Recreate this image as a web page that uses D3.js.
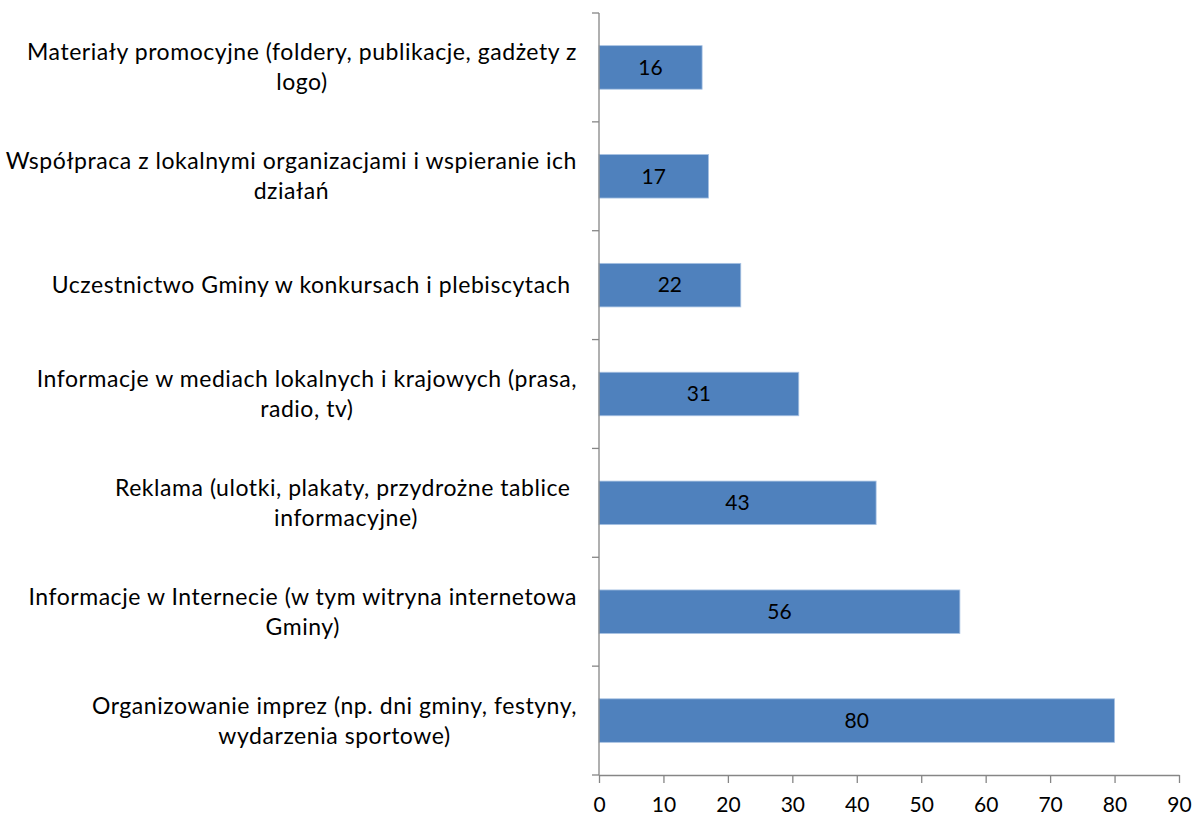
<!DOCTYPE html>
<html>
<head>
<meta charset="utf-8">
<script src="https://cdn.jsdelivr.net/npm/d3@7"></script>
<style>
  body { margin: 0; background: #fff; }
  text { font-family: Lato, "Open Sans", sans-serif; fill: #000; }
</style>
</head>
<body>
<svg id="chart"></svg>
<script>
// categories, top to bottom, already wrapped the way the original wraps them
var categories = [
	["Materiały promocyjne (foldery, publikacje, gadżety z", "logo)"],
	["Współpraca z lokalnymi organizacjami i wspieranie ich", "działań"],
	["Uczestnictwo Gminy w konkursach i plebiscytach "],
	["Informacje w mediach lokalnych i krajowych (prasa,", "radio, tv)"],
	["Reklama (ulotki, plakaty, przydrożne tablice ", "informacyjne)"],
	["Informacje w Internecie (w tym witryna internetowa", "Gminy)"],
	["Organizowanie imprez (np. dni gminy, festyny,", "wydarzenia sportowe)"]
];
var values = [16, 17, 22, 31, 43, 56, 80];
var xTicks = [0, 10, 20, 30, 40, 50, 60, 70, 80, 90];

var w = 1194;
var h = 819;
var plotLeft = 599, plotRight = 1179, plotTop = 13, plotBottom = 775;
var fontSize = 21;
var labelSize = 23;
var axisColor = "#868686";

var svg = d3.select("#chart").attr("width", w).attr("height", h);

var x = d3.scaleLinear().domain([0, 90]).range([plotLeft, plotRight]);
var y = d3.scaleBand()
	.domain(d3.range(categories.length))
	.range([plotTop, plotBottom])
	.paddingInner(0.6)
	.paddingOuter(0.3);

// bars
svg.selectAll("rect.bar")
	.data(values)
	.join("rect")
	.attr("class", "bar")
	.attr("x", x(0))
	.attr("y", function(d, i) { return y(i); })
	.attr("width", function(d) { return x(d) - x(0); })
	.attr("height", y.bandwidth())
	.attr("fill", "#4f81bd")
	.attr("stroke", "#a9c3e3")
	.attr("stroke-width", 0.8);

// value labels
svg.selectAll("text.val")
	.data(values)
	.join("text")
	.attr("class", "val")
	.attr("x", function(d) { return (x(d) + x(0)) / 2; })
	.attr("y", function(d, i) { return y(i) + y.bandwidth() / 2; })
	.attr("dy", "0.35em")
	.attr("text-anchor", "middle")
	.attr("font-size", fontSize + "px")
	.text(function(d) { return d; });

// y axis line + ticks at band edges
var yEdge = d3.scaleLinear().domain([0, categories.length]).range([plotTop, plotBottom]);
svg.append("line")
	.attr("x1", plotLeft).attr("x2", plotLeft)
	.attr("y1", plotTop).attr("y2", plotBottom)
	.attr("stroke", axisColor).attr("stroke-width", 1.3);
svg.selectAll("line.ytick")
	.data(d3.range(categories.length + 1))
	.join("line")
	.attr("class", "ytick")
	.attr("x1", plotLeft - 7).attr("x2", plotLeft)
	.attr("y1", function(d) { return yEdge(d); })
	.attr("y2", function(d) { return yEdge(d); })
	.attr("stroke", axisColor).attr("stroke-width", 1.3);

// x axis
var xAxis = d3.axisBottom(x).tickValues(xTicks).tickSize(8).tickSizeOuter(0).tickPadding(14);
var gx = svg.append("g")
	.attr("transform", "translate(0," + plotBottom + ")")
	.call(xAxis);
gx.select(".domain").attr("stroke", axisColor).attr("stroke-width", 1.3);
gx.selectAll(".tick line").attr("stroke", axisColor).attr("stroke-width", 1.3);
gx.selectAll(".tick text")
	.attr("font-family", "Lato, 'Open Sans', sans-serif")
	.attr("font-size", fontSize + "px")
	.attr("fill", "#000");

// category labels: lines centred on each other, block right-aligned
var labelRight = 577;
var lineGap = 30;
categories.forEach(function(lines, i) {
	var g = svg.append("g");
	var cy = y(i) + y.bandwidth() / 2;
	var t = g.selectAll("text")
		.data(lines)
		.join("text")
		.attr("xml:space", "preserve")
		.attr("font-size", labelSize + "px")
		.attr("letter-spacing", "0.55px")
		.attr("text-anchor", "middle")
		.attr("y", function(d, j) { return cy + (j - (lines.length - 1) / 2) * lineGap; })
		.attr("dy", "0.35em")
		.text(function(d) { return d; });
	var maxW = 0;
	t.each(function() { maxW = Math.max(maxW, this.getComputedTextLength()); });
	t.attr("x", labelRight - maxW / 2);
});
</script>
</body>
</html>
